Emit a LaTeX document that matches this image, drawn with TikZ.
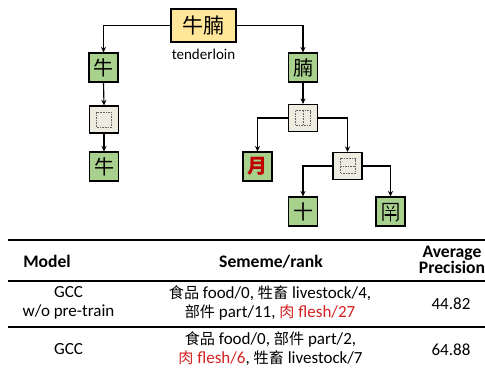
\documentclass[tikz,border=0pt]{standalone}
\usepackage{fontspec}
\setmainfont{Carlito}
\newfontfamily\cjk{Noto Sans CJK SC}
\newfontfamily\cjkt[Scale=0.89]{Noto Sans CJK SC}
\usetikzlibrary{arrows.meta}
\definecolor{grn}{HTML}{A9D18E}
\definecolor{ylw}{HTML}{FFE699}
\definecolor{bge}{HTML}{EEECE1}
\definecolor{myred}{HTML}{D42020}
\definecolor{dkred}{HTML}{C00000}
\tikzset{
  conn/.style={line width=1.15pt, -{Stealth[length=5.5pt,width=5pt]}},
  gbox/.style={draw, line width=1.1pt, fill=grn, minimum width=29pt, minimum height=29pt, inner sep=0pt, font=\cjk\fontsize{20}{20}\selectfont},
  sbox/.style={draw, line width=1.1pt, fill=bge, minimum width=29pt, minimum height=27pt, inner sep=0pt},
  ybox/.style={draw, line width=1.1pt, fill=ylw, minimum width=65pt, minimum height=33pt, inner sep=0pt, font=\cjk\fontsize{21}{21}\selectfont},
  dsh/.style={draw=black!60, line width=0.7pt, dash pattern=on 1.6pt off 1pt},
  rule/.style={line width=1.4pt},
  th/.style={font=\bfseries\fontsize{17.6}{16}\selectfont, align=center, inner sep=0pt},
  td/.style={font=\fontsize{17}{19}\selectfont, align=center, inner sep=0pt},
  glyph/.style={line width=1.1pt, line cap=round}
}
\begin{document}
\begin{tikzpicture}[x=1pt,y=-1pt]
\useasboundingbox (0,0) rectangle (485,370);
% tree
\node[ybox] (top) at (203.5,25.5) {牛腩};
\node[font=\fontsize{15}{15}\selectfont, inner sep=0pt] (tl) at (203.5,54.5) {tenderloin};
\node[gbox] (niu1) at (103.5,67.5) {牛};
\node[gbox] (nan) at (303,67.5) {腩};
\node[sbox] (sL) at (104,119.5) {};
\node[gbox] (niu2) at (104,166.5) {牛};
\node[sbox] (sR1) at (303,118) {};
\node[gbox, text=dkred, font=\cjk\bfseries\fontsize{20}{20}\selectfont] (yue) at (257.5,166.5) {月};
\node[sbox] (sR2) at (347.5,166) {};
\node[gbox] (shi) at (303,211.5) {十};
\node[gbox] (bot) at (390.5,211.5) {};
% inner dashed frames
\draw[dsh] ([shift={(-7.5,-7.5)}]sL.center) rectangle ([shift={(7.5,7.5)}]sL.center);
\draw[dsh] ([shift={(-7.5,-7.5)}]sR1.center) rectangle ([shift={(7.5,7.5)}]sR1.center);
\draw[dsh] ([shift={(0,-7.5)}]sR1.center) -- ([shift={(0,7.5)}]sR1.center);
\draw[dsh] ([shift={(-7.5,-7.5)}]sR2.center) rectangle ([shift={(7.5,7.5)}]sR2.center);
\draw[dsh] ([shift={(-7.5,0)}]sR2.center) -- ([shift={(7.5,0)}]sR2.center);
% glyph: bottom part of 南
\begin{scope}[shift={(bot.center)}]
  \draw[glyph] (-7.5,9) -- (-7.5,-8) -- (7.5,-8) -- (7.5,8) -- (5.5,9.5);
  \draw[glyph] (-3.5,-5.5) -- (-2,-3);
  \draw[glyph] (3.5,-5.5) -- (2,-3);
  \draw[glyph] (-4.5,-1) -- (4.5,-1);
  \draw[glyph] (-5.5,3.5) -- (5.5,3.5);
  \draw[glyph] (0,-1) -- (0,9.5);
\end{scope}
% connectors
\draw[conn] (top.west) -| (niu1.north);
\draw[conn] (top.east) -| (nan.north);
\draw[conn] (niu1.south) -- (sL.north);
\draw[conn] (sL.south) -- (niu2.north);
\draw[conn] (nan.south) -- (sR1.north);
\draw[conn] (sR1.west) -| (yue.north);
\draw[conn] (sR1.east) -| (sR2.north);
\draw[conn] (sR2.west) -| (shi.north);
\draw[conn] (sR2.east) -| (bot.north);
% table
\coordinate (r1l) at (8,240); \coordinate (r1r) at (485,240);
\coordinate (r2l) at (8,281); \coordinate (r2r) at (485,281);
\coordinate (r3l) at (8,327); \coordinate (r3r) at (485,327);
\draw[rule] (r1l) -- (r1r);
\draw[rule] (r2l) -- (r2r);
\draw[rule] (r3l) -- (r3r);
\node[th] (hm) at (47,261.5) {Model};
\node[th] (hs) at (271,261.5) {Sememe/rank};
\node[th] (hp) at (452,259.5) {Average\\Precision};
\node[td] (m1) at (68.5,302.5) {GCC\\w/o pre-train};
\node[td] (s1) at (270,303) {{\cjkt 食品} food/0, {\cjkt 牲畜} livestock/4,\\{\cjkt 部件} part/11, \textcolor{myred}{{\cjkt 肉} flesh/27}};
\node[td] (p1) at (451,303.5) {44.82};
\node[td] (m2) at (68.5,349.5) {GCC};
\node[td] (s2) at (270.5,348.5) {{\cjkt 食品} food/0, {\cjkt 部件} part/2,\\\textcolor{myred}{{\cjkt 肉} flesh/6}, {\cjkt 牲畜} livestock/7};
\node[td] (p2) at (451,349.5) {64.88};
\end{tikzpicture}
\end{document}
